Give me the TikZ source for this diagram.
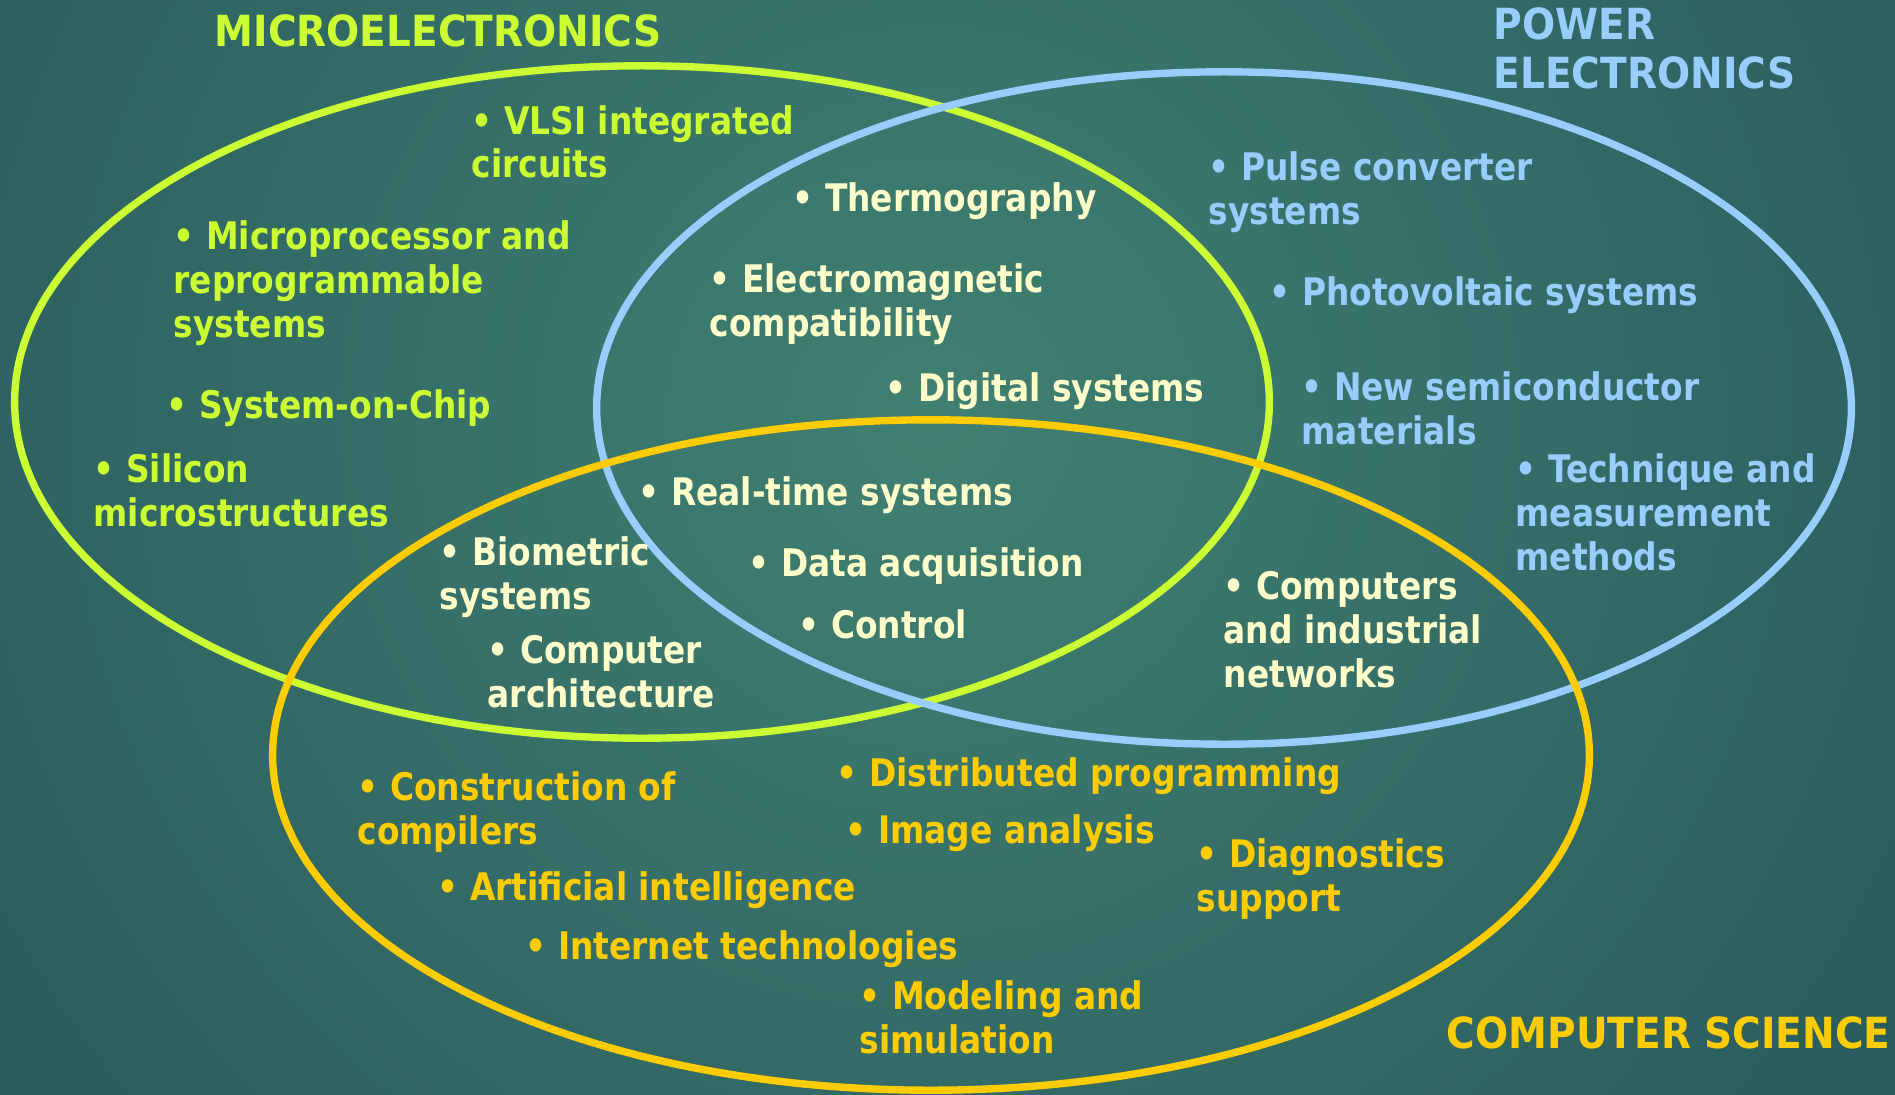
\documentclass[tikz,border=0pt]{standalone}
\usepackage{fontspec}
\setmainfont[FakeStretch=0.865]{DejaVu Sans}
\newfontfamily\headfont[FakeStretch=0.91]{DejaVu Sans}
\usepackage{tikz}

\definecolor{microgreen}{RGB}{204,255,51}
\definecolor{powerblue}{RGB}{153,204,255}
\definecolor{csgold}{RGB}{255,204,0}
\definecolor{sharedcream}{RGB}{255,255,204}
\definecolor{bginner}{RGB}{64,128,113}
\definecolor{bgouter}{RGB}{25,64,80}

\begin{document}
\begin{tikzpicture}[
                x=0.01cm, y=-0.01cm,
                every node/.append style={inner sep=0pt,anchor=base west,align=left,
                    font=\bfseries\fontsize{10.8}{12.4}\selectfont},
                ring/.style={line width=2.1pt},
                heading/.style={font=\headfont\bfseries\fontsize{12.2}{14.2}\selectfont},
                micro/.style={text=microgreen},
                power/.style={text=powerblue},
                compsci/.style={text=csgold},
                shared/.style={text=sharedcream}
            ]
                \useasboundingbox (0,0) rectangle (1895,1094);
                \begin{scope}
                    \clip (0,0) rectangle (1895,1094);
                    \shade[inner color=bginner,outer color=bgouter] (930,420) circle [radius=20cm];
                \end{scope}

                % the three fields
                \draw[ring,microgreen] (642,402) ellipse [x radius=6.27cm,y radius=3.36cm];
                \draw[ring,powerblue] (1224,408) ellipse [x radius=6.27cm,y radius=3.36cm];
                \draw[ring,csgold] (931,755) ellipse [x radius=6.58cm,y radius=3.35cm];

                % (anchor is the baseline of the last line)
                \node[heading,micro] (microhead) at (214,47) {MICROELECTRONICS};
                \node[heading,power] (powerhead) at (1493,89) {POWER\\ELECTRONICS};
                \node[heading,compsci] (cshead) at (1446,1048) {COMPUTER SCIENCE};

                % microelectronics only
                \node[micro] (vlsi) at (471,178) {• VLSI integrated\\circuits};
                \node[micro] (mproc) at (173,337) {• Microprocessor and\\reprogrammable\\systems};
                \node[micro] (soc) at (166,418) {• System-on-Chip};
                \node[micro] (silicon) at (93,526) {• Silicon\\microstructures};

                % overlaps
                \node[shared] (thermo) at (792,211) {• Thermography};
                \node[shared] (emc) at (709,336) {• Electromagnetic\\compatibility};
                \node[shared] (digital) at (885,401) {• Digital systems};
                \node[shared] (realtime) at (638,505) {• Real-time systems};
                \node[shared] (daq) at (748,576) {• Data acquisition};
                \node[shared] (control) at (798,638) {• Control};
                \node[shared] (biometric) at (439,609) {• Biometric\\systems};
                \node[shared] (comparch) at (487,707) {• Computer\\architecture};
                \node[shared] (indnet) at (1223,687) {• Computers\\and industrial\\networks};

                % power electronics only
                \node[power] (pulse) at (1208,224) {• Pulse converter\\systems};
                \node[power] (pv) at (1269,305) {• Photovoltaic systems};
                \node[power] (semi) at (1301,444) {• New semiconductor\\materials};
                \node[power] (measure) at (1515,570) {• Technique and\\measurement\\methods};

                % computer science only
                \node[compsci] (distprog) at (836,786) {• Distributed programming};
                \node[compsci] (compilers) at (357,844) {• Construction of\\compilers};
                \node[compsci] (image) at (845,843) {• Image analysis};
                \node[compsci] (diag) at (1196,911) {• Diagnostics\\support};
                \node[compsci] (ai) at (437,900) {• Artificial intelligence};
                \node[compsci] (internet) at (525,959) {• Internet technologies};
                \node[compsci] (modeling) at (859,1053) {• Modeling and\\simulation};
            \end{tikzpicture}
\end{document}
